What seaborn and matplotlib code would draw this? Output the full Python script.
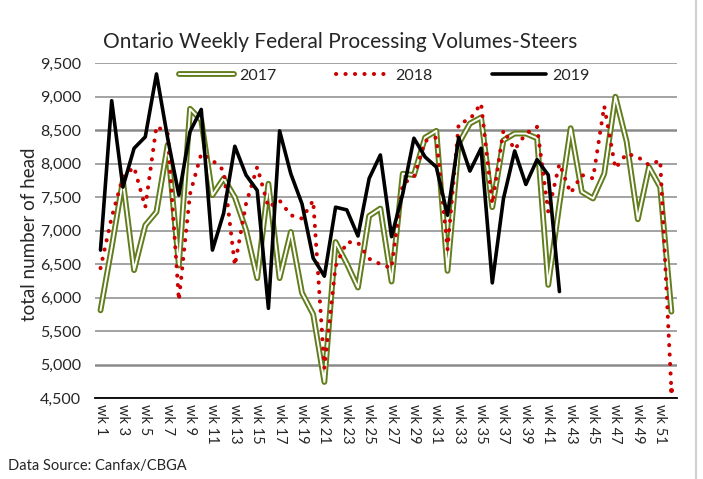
import matplotlib
matplotlib.use("Agg")
import matplotlib.pyplot as plt
from matplotlib.lines import Line2D
import seaborn as sns
import pandas as pd
import numpy as np

weeks = list(range(1, 53))
tick_labels = [f"wk {w}" for w in range(1, 53, 2)]

v2017 = [5810, 6750, 7750, 6410, 7080, 7280, 8280, 6480, 8820, 8650,
         7530, 7780, 7500, 7010, 6290, 7700, 6290, 6980, 6070, 5750,
         4740, 6830, 6510, 6150, 7220, 7330, 6240, 7850, 7830, 8390,
         8490, 6400, 8300, 8600, 8690, 7350, 8350, 8450, 8450, 8380,
         6190, 7400, 8530, 7580, 7480, 7850, 9000, 8330, 7170, 7950,
         7650, 5790]
v2018 = [6440, 7200, 7800, 7950, 7350, 8560, 8450, 5960, 7550, 8150,
         8050, 7900, 6480, 7400, 7950, 7350, 7450, 7230, 7180, 7450,
         4950, 6470, 6830, 6820, 6580, 6500, 6440, 7700, 7800, 8340,
         8390, 6720, 8600, 8660, 8900, 7400, 8500, 8210, 8450, 8550,
         7280, 8000, 7560, 7830, 7780, 8860, 7930, 8150, 8100, 7980,
         8050, 4620]
v2019 = [6710, 8940, 7650, 8230, 8400, 9340, 8380, 7530, 8480, 8810,
         6710, 7260, 8260, 7830, 7600, 5840, 8490, 7850, 7400, 6590,
         6320, 7350, 7310, 6920, 7780, 8130, 6910, 7550, 8380, 8100,
         7950, 7230, 8390, 7890, 8230, 6220, 7480, 8190, 7690, 8060,
         7830, 6090] + [np.nan] * 10

yticks = list(range(4500, 9501, 500))

df = pd.DataFrame({"week": weeks, "2017": v2017, "2018": v2018, "2019": v2019})

sns.set_theme(style="white")
plt.rcParams["font.family"] = ["Lato", "DejaVu Sans"]

GREEN = "#617D1C"
RED = "#CC0000"
DOTS = (0, (0.05, 2.3))

fig = plt.figure(figsize=(7.03, 4.79), dpi=100)
ax = fig.add_axes([0.135, 0.169, 0.828, 0.699])

# grid
for y in yticks:
    lw = 1.8 if y in (8500, 5000) else 1.1
    ax.axhline(y, color="#8a8a8a", lw=lw, zorder=0)

# 2017 double line
sns.lineplot(data=df, x="week", y="2017", ax=ax, color=GREEN, lw=4.2, zorder=2)
sns.lineplot(data=df, x="week", y="2017", ax=ax, color="white", lw=1.4, zorder=2.1)
# 2018 dotted (with the final point marked so the line ends on a dot)
sns.lineplot(data=df, x="week", y="2018", ax=ax, color=RED, lw=2.9, zorder=3,
             linestyle=DOTS, dash_capstyle="round",
             marker="o", markevery=[len(weeks) - 1], markersize=3.6,
             markeredgewidth=0)
# 2019 solid
sns.lineplot(data=df, x="week", y="2019", ax=ax, color="black", lw=2.6, zorder=4)

ax.set_xlim(0.5, 52.5)
ax.set_ylim(4500, 9500)
ax.set_yticks(yticks)
ax.set_yticklabels([f"{y:,}" for y in yticks], fontsize=11.5)
ax.set_xticks(list(range(1, 53, 2)))
ax.set_xticklabels(tick_labels, rotation=270, fontsize=10.5)
ax.tick_params(axis="x", length=0, pad=4)
ax.tick_params(axis="y", length=0, pad=10)
ax.set_xlabel("")
ax.set_ylabel("total number of head", fontsize=13.5)
ax.yaxis.set_label_coords(-0.097, 0.49)
for s in ["top", "right", "left"]:
    ax.spines[s].set_visible(False)
ax.spines["bottom"].set_color("black")
ax.spines["bottom"].set_linewidth(1.3)

h2017 = (Line2D([], [], color=GREEN, lw=4.2), Line2D([], [], color="white", lw=1.4))
h2018 = Line2D([], [], color=RED, lw=2.9, linestyle=DOTS, dash_capstyle="round")
h2019 = Line2D([], [], color="black", lw=2.6)
ax.legend([h2017, h2018, h2019], ["2017", "2018", "2019"], loc="center",
          bbox_to_anchor=(0.497, 0.962), ncol=3, frameon=False, fontsize=11.5,
          handlelength=3.4, columnspacing=3.7, handletextpad=0.35)

fig.text(0.484, 0.912, "Ontario Weekly Federal Processing Volumes-Steers",
         ha="center", va="center", fontsize=15)
fig.text(0.012, 0.027, "Data Source: Canfax/CBGA", ha="left", va="center", fontsize=10.5)

fig.add_artist(Line2D([0.99, 0.99], [0, 1], transform=fig.transFigure, color="#d0d0d0", lw=1.5))

fig.savefig("out.png", dpi=100)
